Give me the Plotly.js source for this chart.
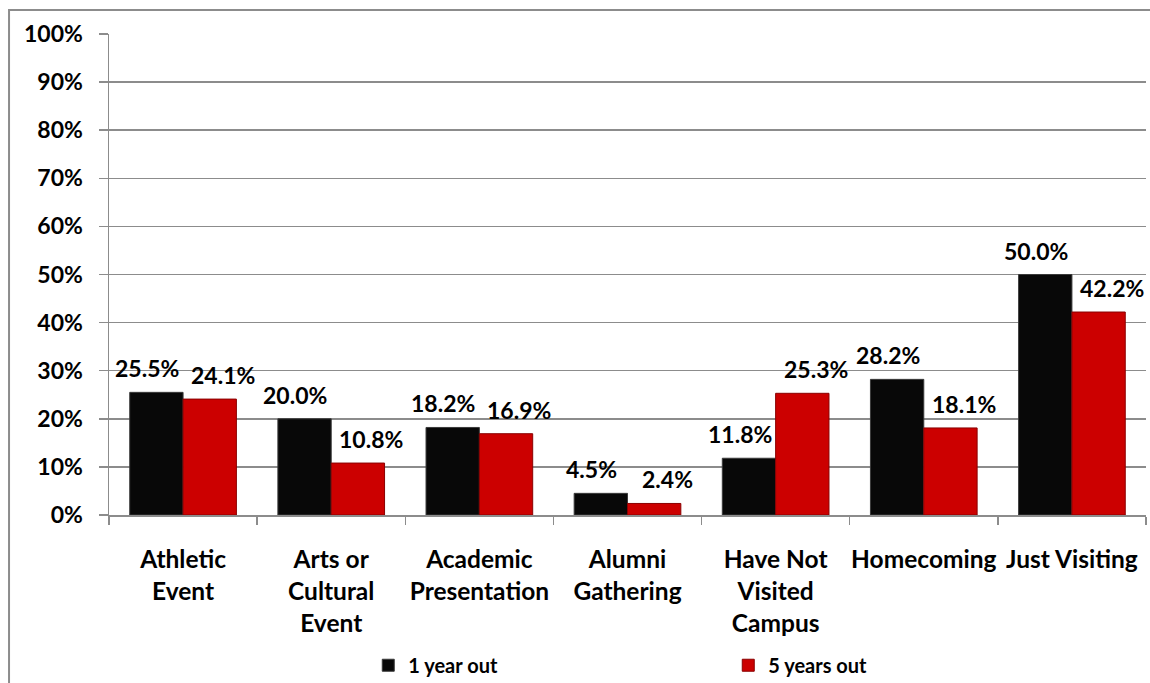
<!DOCTYPE html>
<html>
<head>
<meta charset="utf-8">
<script src="https://cdn.plot.ly/plotly-3.0.1.min.js"></script>
<style>html,body{margin:0;padding:0;background:#fff;}#chart{width:1150px;height:683px;}</style>
</head>
<body>
<div id="chart"></div>
<script>
const categories = ["Athletic<br>Event", "Arts or<br>Cultural<br>Event", "Academic<br>Presentation", "Alumni<br>Gathering", "Have Not<br>Visited<br>Campus", "Homecoming", "Just Visiting"];
const seriesNames = ["1 year out", "5 years out"];
const oneYearOut = [25.5, 20.0, 18.2, 4.5, 11.8, 28.2, 50.0];
const fiveYearsOut = [24.1, 10.8, 16.9, 2.4, 25.3, 18.1, 42.2];
const yTickValues = [0, 10, 20, 30, 40, 50, 60, 70, 80, 90, 100];
const yTickLabels = ["0%", "10%", "20%", "30%", "40%", "50%", "60%", "70%", "80%", "90%", "100%"];

const FONT = "Lato, 'Open Sans', sans-serif";
const gridGray = "#8c8c8c";

const traces = [
  {
    type: "bar", name: seriesNames[0], x: categories, y: oneYearOut,
    marker: {color: "#080808", line: {color: "#3a3a3a", width: 1}},
    hoverinfo: "skip"
  },
  {
    type: "bar", name: seriesNames[1], x: categories, y: fiveYearsOut,
    marker: {color: "#cc0000", line: {color: "#8a0000", width: 1}},
    hoverinfo: "skip"
  }
];

const annotations = [];
[oneYearOut, fiveYearsOut].forEach((vals, s) => {
  vals.forEach((v, i) => {
    annotations.push({
      x: categories[i], y: v, xref: "x", yref: "y",
      text: v.toFixed(1) + "%", showarrow: false,
      xshift: s === 0 ? -36 : 40, yshift: 24, yanchor: "middle",
      font: {family: FONT, size: 23, color: "#000", weight: 700}
    });
  });
});

const layout = {
  width: 1150, height: 683,
  margin: {l: 109, r: 4, t: 34, b: 168, pad: 0, autoexpand: false},
  paper_bgcolor: "#ffffff", plot_bgcolor: "#ffffff",
  barmode: "group", bargap: 0.28, bargroupgap: 0,
  font: {family: FONT, size: 22, color: "#000", weight: 700},
  showlegend: true,
  legend: {
    orientation: "h", x: 0.25, xanchor: "left",
    yref: "container", y: 0.026, yanchor: "middle",
    font: {family: FONT, size: 20, color: "#000", weight: 700},
    entrywidth: 315, entrywidthmode: "pixels",
    bgcolor: "rgba(0,0,0,0)", borderwidth: 0, traceorder: "normal"
  },
  xaxis: {
    type: "category", tickson: "boundaries", ticks: "outside", ticklen: 8,
    tickcolor: gridGray, tickwidth: 1.5,
    showline: true, linecolor: gridGray, linewidth: 1.5,
    showgrid: false, zeroline: false,
    tickfont: {family: FONT, size: 24.5, color: "#000", weight: 700},
    ticklabelstandoff: 22,
    tickangle: 0, automargin: false
  },
  yaxis: {
    range: [0, 100], tickmode: "array", tickvals: yTickValues, ticktext: yTickLabels,
    ticks: "outside", ticklen: 9, tickcolor: gridGray, tickwidth: 1.5,
    showline: true, linecolor: gridGray, linewidth: 1.5,
    showgrid: true, gridcolor: gridGray, gridwidth: 1.5,
    zeroline: false,
    tickfont: {family: FONT, size: 23, color: "#000", weight: 700},
    ticklabelstandoff: 11,
    automargin: false, fixedrange: true
  },
  annotations: annotations,
  shapes: [{
    type: "rect", xref: "paper", yref: "paper",
    x0: -0.0964, x1: 1.01, y0: -0.4, y1: 1.0499,
    line: {color: gridGray, width: 2}, fillcolor: "rgba(0,0,0,0)", layer: "below"
  }]
};

Plotly.newPlot("chart", traces, layout, {staticPlot: true, displayModeBar: false});
</script>
</body>
</html>
